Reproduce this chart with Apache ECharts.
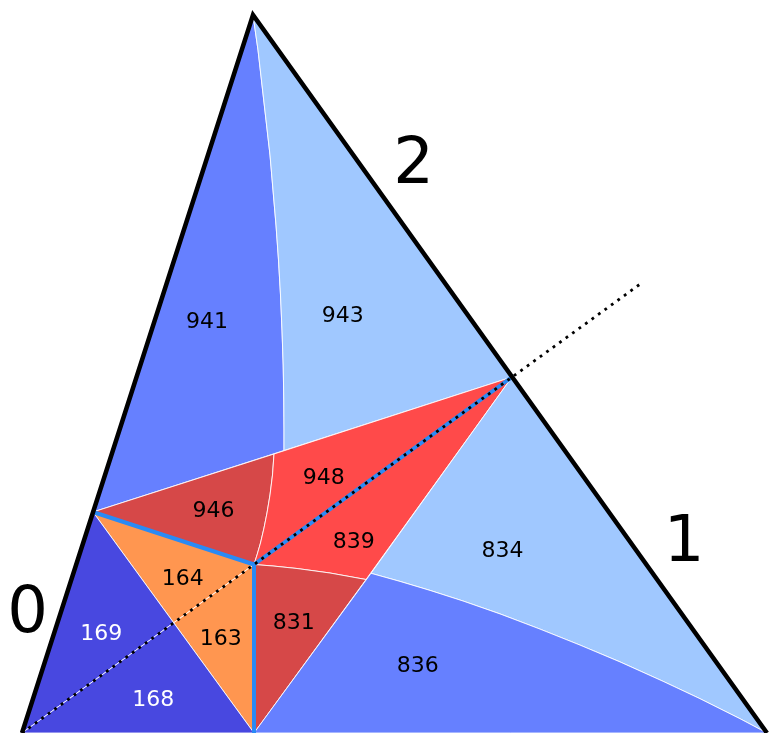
<!DOCTYPE html>
<html>
<head>
<meta charset="utf-8">
<script src="https://cdn.jsdelivr.net/npm/echarts@6/dist/echarts.min.js"></script>
<style>html,body{margin:0;padding:0;background:#fff}#c{width:771px;height:733px}</style>
</head>
<body>
<div id="c"></div>
<script>
// ---- data (chart coordinate frame, y grows downward) ----
const vT = [253, 15], vL = [22, 733], vR = [767, 733];
const vP0 = [93, 512], vP2 = [512, 377], vC = [254, 564.5], vB = [254, 733];
const vQ1 = [274, 454], vQ2 = [284, 450.5], vO = [173.7, 622.8];
const vJl = [366, 579.5], vJr = [371, 573.3];
const vE = [643, 282];
const curveA = [[258, 50], [262, 85], [266, 120], [270, 155], [273, 190], [276, 225], [278.5, 260], [280.5, 295], [282, 330], [283.2, 365], [283.8, 400], [284, 430]]; // T -> Q2
const curveB = [[272.5, 475], [270, 495], [267, 513], [264, 528], [260.5, 543], [257, 555]]; // Q1 -> C
const curveC = [[273, 566], [297, 568.5], [330, 573]]; // C -> Jl
const curveD = [[400, 581.4], [430, 590.4], [463, 601], [500, 613.9], [540, 629.1], [580, 645.1], [620, 661.9], [663, 681.3], [700, 698.7], [740, 718.7]]; // Jr -> R
const rev = a => a.slice().reverse();

const regionNames = ['941', '943', '946', '948', '839', '831', '834', '836', '164', '163', '169', '168'];
const regionClass = ['mid', 'light', 'darkred', 'red', 'red', 'darkred', 'light', 'mid', 'orange', 'orange', 'dark', 'dark'];
const regionPolygons = [
  [vT, vP0, vQ2, ...rev(curveA)],
  [vT, ...curveA, vQ2, vP2],
  [vP0, vQ1, ...curveB, vC],
  [vQ1, vP2, vC, ...rev(curveB)],
  [vC, vP2, vJl, ...rev(curveC)],
  [vC, ...curveC, vJl, vB],
  [vP2, vR, ...rev(curveD), vJr],
  [vJr, ...curveD, vR, vB],
  [vP0, vC, vO],
  [vO, vC, vB],
  [vL, vP0, vO],
  [vL, vO, vB]
];
const labelPoints = [[207, 320.5], [342.7, 314.3], [213.5, 509.5], [323.7, 476.4], [353.8, 541], [293.7, 622],
  [502.5, 550], [417.8, 664.3], [182.7, 577.3], [220.7, 638], [101.2, 632.8], [153.3, 698.3]];
const cornerNames = ['0', '1', '2'];
const cornerPoints = [[27.5, 611], [684, 540], [413.5, 161.5]];
const blueLines = [[vP0, vC], [vC, vB], [vC, vP2]];
const dottedLine = [vL, vE];
const border = [vL, vT, vR];

// ---- styles ----
const colors = { dark: '#4848e0', mid: '#6680ff', light: '#a0c8ff', orange: '#ff9650', darkred: '#d64848', red: '#ff4a4a' };
const whiteText = { dark: true };

const chart = echarts.init(document.getElementById('c'), null, { renderer: 'canvas' });
const proj = (api, pts) => pts.map(p => api.coord(p));

chart.setOption({
  animation: false,
  grid: { left: 0, right: 0, top: 0, bottom: 0 },
  xAxis: { type: 'value', min: 0, max: 771, show: false },
  yAxis: { type: 'value', min: 0, max: 733, inverse: true, show: false },
  series: [
    {
      type: 'custom', clip: false,
      data: regionNames.map((n, i) => [i]),
      renderItem: (params, api) => {
        const i = params.dataIndex;
        return {
          type: 'polygon',
          shape: { points: proj(api, regionPolygons[i]) },
          style: { fill: colors[regionClass[i]], stroke: 'rgba(255,255,255,0.85)', lineWidth: 1 }
        };
      }
    },
    {
      type: 'custom', clip: false,
      data: blueLines.map((l, i) => [i]),
      renderItem: (params, api) => ({
        type: 'polyline',
        shape: { points: proj(api, blueLines[params.dataIndex]) },
        style: { stroke: '#2a8af5', lineWidth: 4, fill: null, lineCap: 'round' }
      })
    },
    {
      type: 'custom', clip: false,
      data: [[0]],
      renderItem: (params, api) => ({
        type: 'polyline',
        shape: { points: proj(api, dottedLine) },
        style: { stroke: '#000', lineWidth: 2.8, fill: null, lineDash: [2.8, 5.2] }
      })
    },
    {
      type: 'custom', clip: false,
      data: [[0]],
      renderItem: (params, api) => ({
        type: 'polyline',
        shape: { points: proj(api, border) },
        style: { stroke: '#000', lineWidth: 4.5, fill: null, lineJoin: 'miter', miterLimit: 20 }
      })
    },
    {
      type: 'custom', clip: false,
      data: regionNames.map((n, i) => [i]),
      renderItem: (params, api) => {
        const i = params.dataIndex;
        const p = api.coord(labelPoints[i]);
        return {
          type: 'text', x: p[0], y: p[1] + 1.5,
          style: {
            text: regionNames[i], fill: whiteText[regionClass[i]] ? '#fff' : '#000',
            font: '22px "DejaVu Sans"', align: 'center', verticalAlign: 'middle'
          }
        };
      }
    },
    {
      type: 'custom', clip: false,
      data: cornerNames.map((n, i) => [i]),
      renderItem: (params, api) => {
        const i = params.dataIndex;
        const p = api.coord(cornerPoints[i]);
        return {
          type: 'text', x: p[0], y: p[1] + 4.5,
          style: { text: cornerNames[i], fill: '#000', font: '64px "DejaVu Sans"', align: 'center', verticalAlign: 'middle' }
        };
      }
    }
  ]
});
</script>
</body>
</html>
